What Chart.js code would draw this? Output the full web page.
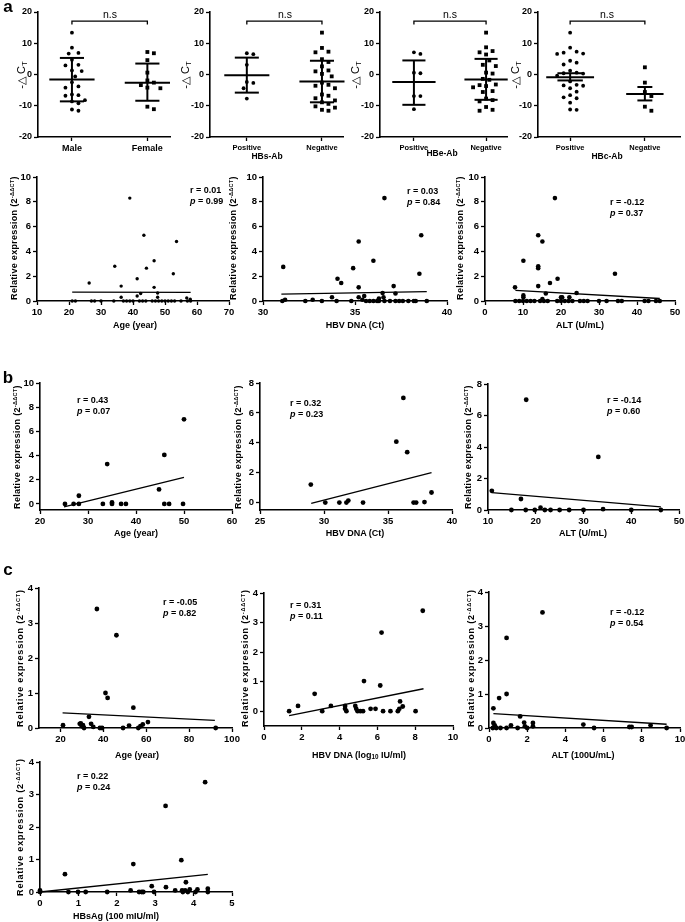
<!DOCTYPE html>
<html><head><meta charset="utf-8">
<script src="https://cdn.jsdelivr.net/npm/chart.js@4.4.1/dist/chart.umd.min.js"></script>
<style>
html,body{margin:0;padding:0;background:#fff;}
#page{position:relative;width:685px;height:922px;overflow:hidden;background:#fff;color:#000;font-family:"Liberation Sans",Arial,sans-serif;}
canvas{position:absolute;}
.t{position:absolute;white-space:nowrap;line-height:1;}
.sup{font-size:0.62em;vertical-align:0.6em;}
.sub{font-size:0.7em;vertical-align:-0.3em;}
</style></head>
<body><div id="page"></div>
<script>
// ---------- tick labels ----------
const dctTicks = [-20, -10, 0, 10, 20];
const relTicks10 = [0, 2, 4, 6, 8, 10];
const relTicks8 = [0, 2, 4, 6, 8];
const relTicks4 = [0, 1, 2, 3, 4];
const ageTicksA = [10, 20, 30, 40, 50, 60, 70];
const ctTicksA = [30, 35, 40];
const altTicksA = [0, 10, 20, 30, 40, 50];
const ageTicksB = [20, 30, 40, 50, 60];
const ctTicksB = [25, 30, 35, 40];
const altTicksB = [10, 20, 30, 40, 50];
const ageTicksC = [20, 40, 60, 80, 100];
const dnaLogTicks = [0, 2, 4, 6, 8, 10];
const alt100Ticks = [0, 2, 4, 6, 8, 10];
const hbsagTicks = [0, 1, 2, 3, 4, 5];

// ---------- panel a, top row: -ΔCT by group ----------
const sexCats = ['Male', 'Female'];
const abCats = ['Positive', 'Negative'];
const maleDct = [13.4, 8.6, 6.9, 6.7, 4.7, 3.1, 2.9, 1.3, 1.1, -0.6, -2.5, -3.8, -4.2, -6.4, -6.8, -6.6, -8.2, -8.6, -9.2, -11.2, -11.6];
const femaleDct = [7.2, 6.8, 4.6, 0.6, -1.9, -2.6, -3.4, -4.2, -4.4, -10.3, -11.1];
const sexMean = [-1.6, -2.6], sexUpper = [5.3, 3.5], sexLower = [-8.6, -8.4];
const hbsAbPos = [6.8, 6.5, 3.1, -2.7, -2.4, -4.4, -7.7];
const hbsAbNeg = [13.4, 8.5, 7.3, 7.1, 4.9, 4.0, 2.6, 1.3, 1.0, 0.2, -0.6, -2.6, -3.3, -3.6, -4.4, -6.4, -6.8, -7.6, -8.3, -8.9, -9.4, -10.2, -10.6, -11.3, -11.6];
const hbsMean = [-0.2, -2.2], hbsUpper = [5.4, 4.4], hbsLower = [-5.8, -8.9];
const hbeAbPos = [7.1, 6.6, 0.6, 0.4, -6.9, -6.9, -11.1];
const hbeAbNeg = [13.4, 8.7, 7.5, 7.1, 6.4, 4.5, 3.1, 2.7, 0.6, 0.3, -1.4, -1.7, -3.2, -3.4, -3.7, -4.1, -5.3, -5.6, -7.7, -8.2, -8.6, -10.4, -11.3, -11.6];
const hbeMean = [-2.4, -1.6], hbeUpper = [4.5, 5.0], hbeLower = [-9.7, -8.1];
const hbcAbPos = [13.4, 8.6, 7.3, 7.0, 6.6, 6.7, 4.4, 3.8, 3.2, 1.2, 0.6, 0.4, 0.3, -0.4, -2.2, -3.5, -3.6, -3.3, -4.4, -5.5, -6.6, -7.3, -7.6, -9.0, -11.2, -11.3];
const hbcAbNeg = [2.3, -2.6, -5.6, -6.9, -10.3, -11.6];
const hbcMean = [-0.85, -6.2], hbcUpper = [0.4, -4.0], hbcLower = [-1.9, -8.3];
const bracketY = [16.0, 17.1, 17.1, 16.0];

// ---------- panel a, second row ----------
const ageA_x = [39, 26.3, 34.3, 36.3, 36.3, 41.3, 41.3, 42.4, 43.4, 44.2, 46.6, 46.6, 47.7, 47.7, 52.6, 53.6, 56.8, 57.9, 21, 22, 27, 28, 30, 34, 37, 38, 39, 40, 42, 43, 44, 46, 47, 48, 49, 50, 51, 52, 53, 55, 57, 58];
const ageA_y = [8.3, 1.45, 2.8, 1.2, 0.3, 1.8, 0.4, 0.6, 5.3, 2.65, 3.25, 1.1, 0.65, 0.3, 2.2, 4.8, 0.25, 0.15, 0, 0, 0, 0, 0, 0, 0, 0, 0, 0, 0, 0, 0, 0, 0, 0, 0, 0, 0, 0, 0, 0, 0, 0];
const ageA_fitX = [21, 58], ageA_fitY = [0.72, 0.70];
const ctA_x = [36.6, 31.1, 31.05, 31.2, 32.3, 32.7, 33.2, 33.75, 34.0, 34.05, 34.25, 34.8, 34.9, 35.2, 35.2, 35.2, 35.4, 35.5, 35.6, 35.8, 36.0, 36.2, 36.3, 36.0, 36.3, 36.5, 36.55, 36.6, 36.9, 37.2, 37.4, 37.6, 37.9, 37.1, 37.2, 38.2, 38.3, 38.5, 38.6, 38.9];
const ctA_y = [8.3, 2.75, 0, 0.1, 0, 0.1, 0, 0.3, 0, 1.8, 1.45, 0, 2.65, 4.8, 1.1, 0.3, 0.1, 0.4, 0, 0, 0, 0, 0, 3.25, 0.2, 0.65, 0.3, 0, 0, 0, 0, 0, 0, 1.2, 0.6, 0, 0, 2.2, 5.3, 0];
const ctA_fitX = [31.0, 38.9], ctA_fitY = [0.55, 0.75];
const altA_x = [18.4, 7.9, 10.1, 10.1, 10.1, 14.0, 14.0, 14.0, 14.0, 15.1, 15.1, 17.1, 16.0, 19.1, 20.0, 20.3, 22.2, 24.1, 34.2, 8, 9, 10, 11, 12, 13, 14.5, 15.5, 16.5, 19, 20, 21, 22, 23, 25, 26, 27, 30, 32, 35, 36, 42, 43, 45, 46];
const altA_y = [8.3, 1.1, 3.25, 0.45, 0.3, 5.3, 2.8, 2.65, 1.2, 4.8, 0.15, 1.45, 0.6, 1.8, 0.3, 0.3, 0.3, 0.65, 2.2, 0, 0, 0, 0, 0, 0, 0, 0, 0, 0, 0, 0, 0, 0, 0, 0, 0, 0, 0, 0, 0, 0, 0, 0, 0];
const altA_fitX = [8, 46], altA_fitY = [0.85, 0.2];

// ---------- panel b ----------
const ageB_x = [25.2, 27.0, 28.1, 28.1, 33.1, 34.0, 35.0, 35.0, 36.9, 37.9, 44.8, 45.9, 45.9, 46.9, 49.8, 50.0];
const ageB_y = [0, 0, 0.68, 0, 0, 3.3, 0.12, 0, 0, 0, 1.2, 4.05, 0, 0, 0, 7.0];
const ageB_fitX = [25, 50], ageB_fitY = [-0.25, 2.2];
const ctB_x = [28.97, 30.1, 31.2, 31.75, 31.9, 33.05, 35.65, 36.2, 36.5, 37.0, 37.2, 37.85, 38.4];
const ctB_y = [1.2, 0, 0, 0, 0.13, 0, 4.07, 7.0, 3.37, 0, 0, 0.03, 0.67];
const ctB_fitX = [29, 38.4], ctB_fitY = [-0.05, 2.0];
const altB_x = [10.8, 14.9, 16.9, 17.9, 18.0, 19.8, 21.0, 21.9, 23.1, 25.0, 27.0, 30.0, 33.1, 34.1, 40.0, 46.2];
const altB_y = [1.22, 0, 0.7, 0, 7.0, 0, 0.15, 0, 0, 0, 0, 0, 3.37, 0.05, 0, 0];
const altB_fitX = [10.8, 46.2], altB_fitY = [1.1, 0.2];

// ---------- panel c ----------
const ageC_x = [21.2, 29.0, 29.5, 30.0, 30.5, 31.0, 33.3, 34.3, 35.3, 37.0, 38.4, 39.4, 41.0, 42.0, 46.1, 49.2, 52.0, 54.0, 56.3, 57.3, 58.4, 60.8, 92.4];
const ageC_y = [0.08, 0.12, 0.13, 0.05, 0.08, 0, 0.32, 0.12, 0.03, 3.4, 0, 0, 1.0, 0.86, 2.65, 0, 0.07, 0.58, 0, 0.05, 0.1, 0.17, 0];
const ageC_fitX = [21, 92], ageC_fitY = [0.43, 0.22];
const dnaC_x = [1.33, 1.8, 2.68, 3.08, 3.54, 4.29, 4.29, 4.36, 4.83, 4.88, 4.95, 5.1, 5.24, 5.29, 5.64, 5.9, 6.15, 6.22, 6.3, 6.69, 7.08, 7.16, 7.2, 7.34, 8.02, 8.4];
const dnaC_y = [0, 0.18, 0.59, 0, 0.18, 0.18, 0.08, 0, 0.18, 0.08, 0, 0, 0, 1.02, 0.08, 0.08, 0.87, 2.66, 0, 0, 0, 0.08, 0.33, 0.16, 0, 3.4];
const dnaC_fitX = [1.33, 8.44], dnaC_fitY = [-0.15, 0.76];
const altC_x = [0.23, 0.23, 0.3, 0.2, 0.38, 0.53, 0.6, 0.92, 0.92, 0.92, 1.15, 1.5, 1.63, 1.84, 1.88, 2.0, 2.3, 2.3, 2.8, 4.94, 5.5, 7.35, 7.47, 8.46, 9.3];
const altC_y = [0.58, 0.15, 0.08, 0, 0, 0.88, 0, 1.0, 2.65, 0, 0.08, 0, 0.34, 0.16, 0.05, 0, 0.15, 0.05, 3.4, 0.1, 0, 0.03, 0.03, 0.08, 0];
const altC_fitX = [0.23, 9.3], altC_fitY = [0.42, 0.11];
const hbsag_x = [0, 0, 0.65, 0.74, 0.99, 1.19, 1.75, 2.36, 2.43, 2.58, 2.65, 2.69, 2.91, 2.97, 3.27, 3.28, 3.52, 3.68, 3.7, 3.72, 3.78, 3.8, 3.85, 3.9, 4.05, 4.1, 4.3, 4.37, 4.37];
const hbsag_y = [0.05, 0, 0.55, 0, 0, 0, 0, 0.05, 0.86, 0, 0, 0, 0.18, 0, 2.65, 0.15, 0.05, 0.98, 0.05, 0, 0.05, 0.3, 0, 0.08, 0, 0.08, 3.38, 0.1, 0];
const hbsag_fitX = [0, 4.37], hbsag_fitY = [0, 0.54];

// ---------- helpers ----------
const FONT = '"Liberation Sans", Arial, Helvetica, sans-serif';
const page = document.getElementById('page');
Chart.defaults.font.family = FONT;

function pts(xs, ys, r, style) {
  return { data: xs.map((x, i) => ({ x: x, y: ys[i] })), pointRadius: r, pointStyle: style || 'circle',
    backgroundColor: '#000', borderColor: '#000', borderWidth: 0, showLine: false, clip: false, order: 0 };
}
function seg(xs, ys, w) {
  return { data: xs.map((x, i) => ({ x: x, y: ys[i] })), showLine: true, borderColor: '#000', borderWidth: w || 1.3,
    pointRadius: 0, clip: false, order: 1, tension: 0, fill: false };
}
// beeswarm placement of dots inside a category (layout only)
function swarm(vals, pxY, pxX, d) {
  const idx = vals.map((v, i) => i).sort((a, b) => vals[b] - vals[a]);
  const placed = [], off = vals.map(() => 0);
  for (const i of idx) {
    const y = vals[i] * pxY;
    for (let k = 0; k < 40; k++) {
      const c = k === 0 ? 0 : (k % 2 ? 1 : -1) * Math.ceil(k / 2) * d / 2;
      if (placed.every(p => Math.hypot(p.x - c, p.y - y) >= d)) { off[i] = c; placed.push({ x: c, y: y }); break; }
    }
  }
  return off.map(o => o / pxX);
}
function dotGroup(spec, vals, g, style, r) {
  const offs = swarm(vals, (spec.B - spec.T) / 40, (spec.R - spec.L) / (spec.xMax - spec.xMin), 6.5);
  return pts(vals.map((v, i) => g + offs[i]), vals, r, style);
}
function bars(g, m, hi, lo, wm, wc) {
  return [seg([g - wm, g + wm], [m, m], 2), seg([g - wc, g + wc], [hi, hi], 2),
          seg([g - wc, g + wc], [lo, lo], 2), seg([g, g], [lo, hi], 2)];
}
function makeChart(s) {
  const PL = 46, PT = 12, PR = 14, PB = 30;
  const c = document.createElement('canvas');
  const w = s.R - s.L + PL + PR, h = s.B - s.T + PT + PB;
  c.width = w; c.height = h;
  c.style.left = (s.L - PL) + 'px'; c.style.top = (s.T - PT) + 'px';
  c.style.width = w + 'px'; c.style.height = h + 'px';
  page.appendChild(c);
  const tf = { family: FONT, size: s.tickSize || 9.5, weight: 'bold' };
  const ax = (ticks, min, max, fit, font, cb) => ({
    type: 'linear', min: min, max: max,
    afterBuildTicks: sc => { sc.ticks = ticks.map(v => ({ value: v })); },
    afterFit: fit,
    ticks: { font: font, color: '#000', padding: 2, autoSkip: false, maxRotation: 0, minRotation: 0,
      callback: cb || (v => String(v)) },
    grid: { display: true, drawOnChartArea: false, drawTicks: true, tickLength: 4, tickWidth: 1.3, tickColor: '#000', color: '#000' },
    border: { display: true, color: '#000', width: 1.6 }
  });
  new Chart(c, {
    type: 'scatter',
    data: { datasets: s.datasets },
    options: {
      responsive: false, animation: false, devicePixelRatio: 1, events: [],
      layout: { padding: { left: 0, top: PT, right: PR, bottom: 0 } },
      plugins: { legend: { display: false }, tooltip: { enabled: false } },
      scales: {
        x: ax(s.xTicks, s.xMin, s.xMax, sc => { sc.height = PB; }, s.xFont || tf, s.xLabel),
        y: ax(s.yTicks, s.yMin, s.yMax, sc => { sc.width = PL; }, tf)
      }
    }
  });
}
function addText(html, x, y, o) {
  o = o || {};
  const d = document.createElement('div');
  d.className = 't';
  d.innerHTML = html;
  d.style.font = (o.italic ? 'italic ' : '') + (o.bold === false ? 'normal ' : 'bold ') + (o.size || 9) + 'px ' + FONT;
  if (o.ls) d.style.letterSpacing = o.ls + 'px';
  d.style.left = x + 'px'; d.style.top = y + 'px';
  d.style.transform = o.rot ? 'translate(-50%,-50%) rotate(-90deg)' : (o.align === 'left' ? 'translate(0,-50%)' : 'translate(-50%,-50%)');
  page.appendChild(d);
}

// ---------- panel a, dot plots ----------
const dotSpecs = [
  { L: 38, R: 170, xMin: -0.45, xMax: 1.3, cats: sexCats, g0: maleDct, g1: femaleDct, s0: 'circle', m: sexMean, hi: sexUpper, lo: sexLower, w: [[0.3, 0.16], [0.3, 0.16]], cf: 9 },
  { L: 210, R: 343, xMin: -0.49, xMax: 1.28, cats: abCats, g0: hbsAbPos, g1: hbsAbNeg, s0: 'circle', m: hbsMean, hi: hbsUpper, lo: hbsLower, w: [[0.3, 0.16], [0.3, 0.16]], cf: 7.5 },
  { L: 380, R: 507, xMin: -0.47, xMax: 1.29, cats: abCats, g0: hbeAbPos, g1: hbeAbNeg, s0: 'circle', m: hbeMean, hi: hbeUpper, lo: hbeLower, w: [[0.3, 0.16], [0.3, 0.16]], cf: 7.5 },
  { L: 538, R: 680, xMin: -0.43, xMax: 1.47, cats: abCats, g0: hbcAbPos, g1: hbcAbNeg, s0: 'circle', m: hbcMean, hi: hbcUpper, lo: hbcLower, w: [[0.32, 0.17], [0.25, 0.1]], cf: 7.5 }
];
dotSpecs.forEach(d => {
  const s = { L: d.L, R: d.R, T: 12, B: 137, xMin: d.xMin, xMax: d.xMax, yMin: -20, yMax: 20,
    xTicks: [0, 1], yTicks: dctTicks, xLabel: v => d.cats[v], tickSize: 9,
    xFont: { family: FONT, size: d.cf, weight: 'bold' } };
  s.datasets = [
    dotGroup(s, d.g0, 0, d.s0, 1.9),
    dotGroup(s, d.g1, 1, 'rect', 2.7),
    ...bars(0, d.m[0], d.hi[0], d.lo[0], d.w[0][0], d.w[0][1]),
    ...bars(1, d.m[1], d.hi[1], d.lo[1], d.w[1][0], d.w[1][1]),
    seg([0, 0, 1, 1], bracketY, 1.3)
  ];
  makeChart(s);
});

// ---------- scatter charts ----------
const scatterSpecs = [
  { L: 37, R: 229, T: 177, B: 301, xMin: 10, xMax: 70, yMin: 0, yMax: 10, xTicks: ageTicksA, yTicks: relTicks10, x: ageA_x, y: ageA_y, fx: ageA_fitX, fy: ageA_fitY, r: 1.7 },
  { L: 263, R: 447, T: 177, B: 301, xMin: 30, xMax: 40, yMin: 0, yMax: 10, xTicks: ctTicksA, yTicks: relTicks10, x: ctA_x, y: ctA_y, fx: ctA_fitX, fy: ctA_fitY, r: 2.3 },
  { L: 485, R: 675, T: 177, B: 301, xMin: 0, xMax: 50, yMin: 0, yMax: 10, xTicks: altTicksA, yTicks: relTicks10, x: altA_x, y: altA_y, fx: altA_fitX, fy: altA_fitY, r: 2.3 },
  { L: 40, R: 232, T: 383, B: 510, xMin: 20, xMax: 60, yMin: -0.5, yMax: 10, xTicks: ageTicksB, yTicks: relTicks10, x: ageB_x, y: ageB_y, fx: ageB_fitX, fy: ageB_fitY, r: 2.4 },
  { L: 260, R: 452, T: 383, B: 510, xMin: 25, xMax: 40, yMin: -0.5, yMax: 8, xTicks: ctTicksB, yTicks: relTicks8, x: ctB_x, y: ctB_y, fx: ctB_fitX, fy: ctB_fitY, r: 2.4 },
  { L: 488, R: 679, T: 384, B: 510, xMin: 10, xMax: 50, yMin: 0, yMax: 8, xTicks: altTicksB, yTicks: relTicks8, x: altB_x, y: altB_y, fx: altB_fitX, fy: altB_fitY, r: 2.4 },
  { L: 39, R: 232, T: 588, B: 728, xMin: 10, xMax: 100, yMin: 0, yMax: 4, xTicks: ageTicksC, yTicks: relTicks4, x: ageC_x, y: ageC_y, fx: ageC_fitX, fy: ageC_fitY, r: 2.4 },
  { L: 264, R: 453, T: 593, B: 726, xMin: 0, xMax: 10, yMin: -0.5, yMax: 4, xTicks: dnaLogTicks, yTicks: relTicks4, x: dnaC_x, y: dnaC_y, fx: dnaC_fitX, fy: dnaC_fitY, r: 2.4 },
  { L: 489, R: 680, T: 592, B: 728, xMin: 0, xMax: 10, yMin: 0, yMax: 4, xTicks: alt100Ticks, yTicks: relTicks4, x: altC_x, y: altC_y, fx: altC_fitX, fy: altC_fitY, r: 2.4 },
  { L: 40, R: 232, T: 762, B: 892, xMin: 0, xMax: 5, yMin: 0, yMax: 4, xTicks: hbsagTicks, yTicks: relTicks4, x: hbsag_x, y: hbsag_y, fx: hbsag_fitX, fy: hbsag_fitY, r: 2.4 }
];
scatterSpecs.forEach(d => {
  d.datasets = [pts(d.x, d.y, d.r), seg(d.fx, d.fy, 1.3)];
  makeChart(d);
});

// ---------- text ----------
addText('a', 8, 7, { size: 17 });
addText('b', 8, 378, { size: 17 });
addText('c', 8, 570, { size: 17 });

const dctTitle = '-△ C<span class="sub">T</span>';
[[22, 75], [186, 75], [356, 75], [516, 75]].forEach(p => addText(dctTitle, p[0], p[1], { size: 11, bold: false, rot: true }));
[110, 285, 450, 607].forEach(x => addText('n.s', x, 14, { size: 10.5, bold: false }));
addText('HBs-Ab', 267, 156, { size: 8.5 });
addText('HBe-Ab', 442, 153, { size: 8.5 });
addText('HBc-Ab', 607, 156, { size: 8.5 });

const relTitle = 'Relative expression (2<span class="sup">-ΔΔCT</span>)';
[[14, 238], [233, 238], [460, 238]].forEach(p => addText(relTitle, p[0], p[1], { size: 9, rot: true, ls: 0.3 }));
[[17, 447], [238, 447], [468, 447]].forEach(p => addText(relTitle, p[0], p[1], { size: 9, rot: true, ls: 0.3 }));
[[20, 658], [245, 658], [471, 658], [20, 827]].forEach(p => addText(relTitle, p[0], p[1], { size: 9, rot: true, ls: 0.8 }));

addText('Age (year)', 135, 325, { size: 9 });
addText('HBV DNA (Ct)', 355, 325, { size: 9 });
addText('ALT (U/mL)', 580, 325, { size: 9 });
addText('Age (year)', 136, 533, { size: 9 });
addText('HBV DNA (Ct)', 355, 533, { size: 9 });
addText('ALT (U/mL)', 583, 533, { size: 9 });
addText('Age (year)', 137, 755, { size: 9 });
addText('HBV DNA (log<span class="sub">10</span> IU/ml)', 359, 755, { size: 9 });
addText('ALT (100U/mL)', 583, 755, { size: 9 });
addText('HBsAg (100 mIU/ml)', 116, 916, { size: 9 });

const rp = [
  ['0.01', '0.99', 190, 190], ['0.03', '0.84', 407, 191], ['-0.12', '0.37', 610, 202],
  ['0.43', '0.07', 77, 400], ['0.32', '0.23', 290, 403], ['-0.14', '0.60', 607, 400],
  ['-0.05', '0.82', 163, 602], ['0.31', '0.11', 290, 605], ['-0.12', '0.54', 610, 612],
  ['0.22', '0.24', 77, 776]
];
rp.forEach(a => {
  addText('r = ' + a[0], a[2], a[3], { size: 9, align: 'left' });
  addText('<i>p</i> = ' + a[1], a[2], a[3] + 11, { size: 9, align: 'left' });
});
</script></body></html>
